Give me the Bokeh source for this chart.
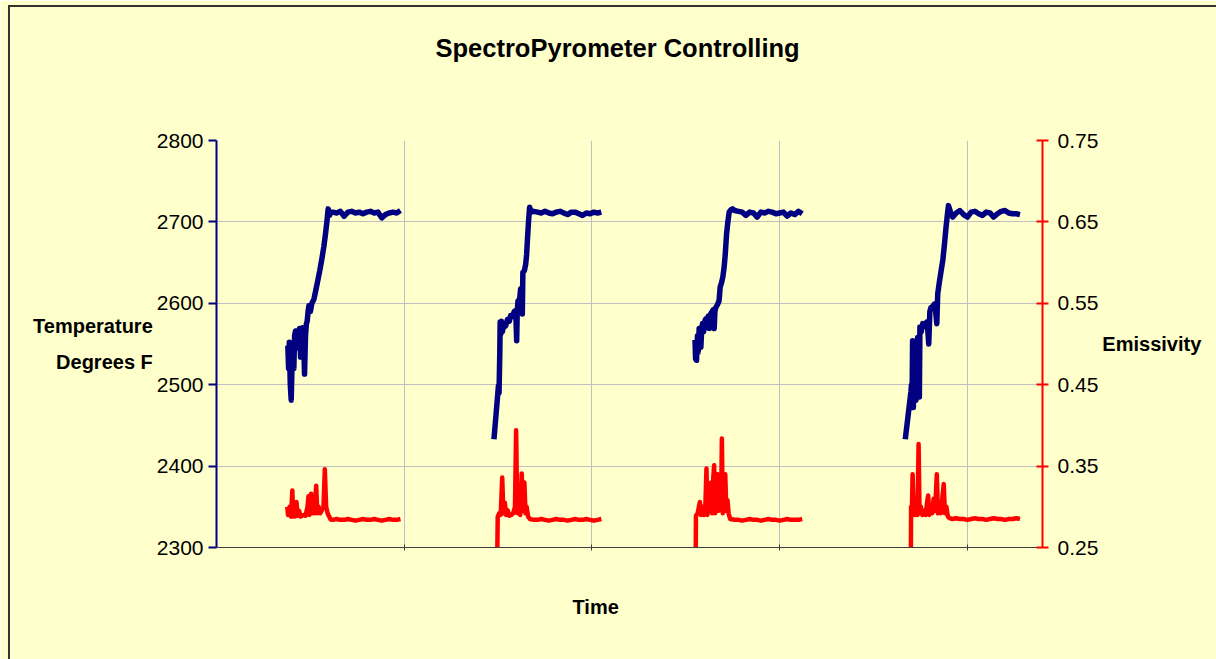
from bokeh.plotting import figure
from bokeh.models import (Range1d, LinearAxis, FixedTicker, PrintfTickFormatter,
                          CustomJSTickFormatter, Grid, Title, InlineStyleSheet)
from bokeh.embed import file_html
from bokeh.resources import INLINE

TITLE = "SpectroPyrometer Controlling"
X_LABEL = "Time"
Y_LABEL = "Temperature\nDegrees F"
Y2_LABEL = "Emissivity"

temp_ticks = [2300, 2400, 2500, 2600, 2700, 2800]
emis_ticks = [0.25, 0.35, 0.45, 0.55, 0.65, 0.75]
time_ticks = [100, 200, 300, 400]

# ---- cycle 1 ----
c1_time = [38.0, 38.4, 38.8, 39.3, 39.8, 40.3, 40.8, 41.2, 41.6, 42.1, 42.6, 43.2, 43.7, 44.2, 44.8,
           45.3, 45.8, 46.3, 46.9, 47.4, 47.9, 48.3, 48.8, 49.2, 50.0, 50.8, 51.9, 52.8, 53.7, 55.0,
           56.3, 57.2, 58.1, 58.8, 59.5, 60.2, 61.0,
           62, 64, 66, 68, 70, 72, 74, 76, 78, 80, 82, 84, 86, 88, 90, 92, 94, 96, 98]
c1_temp = [2548, 2520, 2552, 2500, 2481, 2530, 2548, 2520, 2560, 2566, 2545, 2565, 2550, 2569, 2534,
           2560, 2570, 2565, 2513, 2560, 2575, 2578, 2590, 2597, 2590, 2600, 2605, 2615, 2625, 2640,
           2657, 2670, 2686, 2700, 2716, 2708, 2712,
           2712, 2711, 2713, 2707, 2712, 2713, 2711, 2712, 2710, 2712, 2713, 2711, 2712, 2705, 2709,
           2711, 2712, 2711, 2714]
c1_etime = [37.7, 38.1, 38.9, 39.7, 40.4, 40.8, 41.3, 41.8, 42.6, 43.2, 44.0, 44.8, 46.4, 47.4, 48.5,
            49.0, 49.5, 50.4, 50.9, 51.7, 52.2, 53.1, 53.7, 54.4, 55.2, 56.0, 57.0, 57.7, 58.4, 59.2,
            60.0, 60.8,
            62, 64, 66, 68, 70, 72, 74, 76, 78, 80, 82, 84, 86, 88, 90, 92, 94, 96, 98]
c1_emis = [0.300, 0.290, 0.300, 0.288, 0.320, 0.288, 0.305, 0.288, 0.306, 0.289, 0.295, 0.288, 0.290,
           0.289, 0.300, 0.313, 0.290, 0.316, 0.292, 0.300, 0.292, 0.326, 0.292, 0.300, 0.292, 0.295,
           0.300, 0.346, 0.300, 0.292, 0.288, 0.2845,
           0.284, 0.285, 0.284, 0.284, 0.285, 0.284, 0.283, 0.284, 0.285, 0.284, 0.284, 0.285, 0.284,
           0.283, 0.284, 0.285, 0.284, 0.284, 0.285]

# ---- cycle 2 ----
c2_time = [147.8, 149.0, 150.2, 150.5, 150.9, 151.1, 151.4, 151.8, 152.3, 153.1, 154.0, 155.0, 156.0,
           156.7, 157.8, 158.6, 159.4, 159.9, 160.2, 160.6, 161.2, 162.0, 162.5, 162.9, 163.2, 164.0,
           164.7, 165.2, 165.6, 166.2, 166.8, 167.5,
           169, 171, 173, 175, 177, 179, 181, 183, 185, 187, 189, 191, 193, 195, 197, 199, 201, 203, 205]
c2_temp = [2433, 2466, 2499, 2490, 2538, 2577, 2562, 2578, 2565, 2575, 2572, 2580, 2578, 2585, 2584,
           2590, 2591, 2554, 2590, 2603, 2598, 2618, 2610, 2587, 2638, 2640, 2648, 2660, 2677, 2700,
           2718, 2712,
           2713, 2712, 2711, 2713, 2711, 2710, 2712, 2713, 2711, 2709, 2712, 2712, 2710, 2708, 2711,
           2710, 2712, 2711, 2712]
c2_etime = [149.6, 149.8, 150.6, 151.4, 152.2, 152.8, 153.6, 154.3, 155.0, 156.0, 157.0, 158.0, 159.0,
            159.6, 160.2, 161.0, 161.8, 162.6, 163.2, 164.0, 164.6, 165.2, 166.0, 167.0,
            169, 171, 173, 175, 177, 179, 181, 183, 185, 187, 189, 191, 193, 195, 197, 199, 201, 203, 205]
c2_emis = [0.25, 0.288, 0.292, 0.290, 0.336, 0.292, 0.305, 0.290, 0.296, 0.289, 0.290, 0.292, 0.300,
           0.394, 0.292, 0.300, 0.290, 0.341, 0.295, 0.330, 0.292, 0.300, 0.288, 0.285,
           0.284, 0.284, 0.285, 0.284, 0.283, 0.284, 0.285, 0.284, 0.284, 0.283, 0.284, 0.285, 0.284,
           0.284, 0.285, 0.284, 0.283, 0.284, 0.285]

# ---- cycle 3 ----
c3_time = [254.9, 255.2, 255.5, 255.7, 256.2, 256.6, 257.1, 257.5, 258.0, 258.5, 258.9, 259.5, 260.1,
           260.7, 261.3, 261.9, 262.5, 262.9, 263.3, 264.0, 264.6, 265.1, 265.5, 266.0, 266.8, 267.7,
           268.3, 269.0, 269.7, 270.4, 271.0, 271.7, 272.4, 273.1, 274.0, 274.9,
           276, 278, 280, 282, 284, 286, 288, 290, 292, 294, 296, 298, 300, 302, 304, 306, 308, 310, 312]
c3_temp = [2555, 2532, 2550, 2530, 2560, 2540, 2569, 2552, 2546, 2570, 2575, 2565, 2578, 2581, 2578,
           2584, 2569, 2585, 2587, 2590, 2592, 2569, 2590, 2595, 2598, 2603, 2620, 2625, 2632, 2644,
           2660, 2685, 2700, 2712, 2715, 2716,
           2714, 2713, 2712, 2708, 2712, 2711, 2706, 2712, 2711, 2713, 2712, 2710, 2711, 2712, 2707,
           2711, 2709, 2713, 2710]
c3_etime = [255.3, 255.4, 256.3, 257.0, 257.5, 258.0, 258.8, 259.6, 260.4, 261.0, 261.5, 262.2, 262.8,
            263.5, 264.1, 264.6, 265.1, 265.6, 266.2, 266.9, 267.5, 268.2, 268.8, 269.2, 269.7, 270.4,
            271.0, 271.6, 272.2, 272.8, 273.6,
            276, 278, 280, 282, 284, 286, 288, 290, 292, 294, 296, 298, 300, 302, 304, 306, 308, 310, 312]
c3_emis = [0.25, 0.289, 0.292, 0.300, 0.306, 0.290, 0.300, 0.290, 0.300, 0.347, 0.290, 0.310, 0.295,
           0.330, 0.292, 0.335, 0.351, 0.292, 0.320, 0.340, 0.295, 0.320, 0.300, 0.384, 0.292, 0.310,
           0.340, 0.295, 0.308, 0.292, 0.285,
           0.284, 0.284, 0.283, 0.284, 0.285, 0.284, 0.284, 0.283, 0.284, 0.285, 0.284, 0.284, 0.283,
           0.284, 0.285, 0.284, 0.284, 0.284, 0.285]

# ---- cycle 4 ----
c4_time = [366.9, 368.4, 369.9, 370.2, 370.5, 370.8, 371.2, 371.6, 372.0, 372.6, 373.0, 373.5, 374.0,
           374.4, 374.7, 375.4, 376.2, 377.2, 378.3, 378.8, 379.4, 380.0, 380.6, 381.5, 382.4, 383.0,
           383.7, 384.2, 385.0, 386.0, 386.9, 387.8, 388.6, 389.3, 389.9, 391.0, 392.2,
           394, 396, 398, 400, 402, 404, 406, 408, 410, 412, 414, 416, 418, 420, 422, 424, 426, 428]
c4_temp = [2433, 2462, 2491, 2500, 2472, 2554, 2472, 2550, 2500, 2481, 2530, 2558, 2520, 2485, 2571,
           2565, 2575, 2572, 2577, 2570, 2550, 2590, 2595, 2596, 2599, 2592, 2575, 2612, 2625, 2640,
           2653, 2673, 2693, 2708, 2720, 2712, 2706,
           2711, 2714, 2709, 2706, 2712, 2713, 2710, 2708, 2712, 2711, 2706, 2710, 2713, 2714, 2711,
           2710, 2710, 2709]
c4_etime = [369.9, 370.0, 370.4, 370.8, 371.3, 372.0, 372.8, 373.4, 374.0, 374.5, 375.2, 376.0, 377.0,
            377.8, 378.5, 379.1, 379.7, 380.5, 381.2, 382.0, 382.8, 383.7, 384.3, 385.0, 385.8, 386.6,
            387.4, 388.0, 388.8, 389.6, 390.5,
            392, 394, 396, 398, 400, 402, 404, 406, 408, 410, 412, 414, 416, 418, 420, 422, 424, 426, 428]
c4_emis = [0.25, 0.300, 0.290, 0.340, 0.300, 0.290, 0.300, 0.290, 0.377, 0.292, 0.300, 0.290, 0.295,
           0.290, 0.305, 0.314, 0.290, 0.300, 0.292, 0.310, 0.295, 0.340, 0.292, 0.300, 0.292, 0.310,
           0.328, 0.292, 0.300, 0.288, 0.286,
           0.285, 0.286, 0.285, 0.285, 0.284, 0.285, 0.286, 0.285, 0.285, 0.284, 0.285, 0.286, 0.285,
           0.285, 0.284, 0.285, 0.285, 0.286, 0.285]

temp_cycles = [(c1_time, c1_temp), (c2_time, c2_temp), (c3_time, c3_temp), (c4_time, c4_temp)]
emis_cycles = [(c1_etime, c1_emis), (c2_etime, c2_emis), (c3_etime, c3_emis), (c4_etime, c4_emis)]

BG = "#FFFFCC"
BLUE = "#000080"
RED = "#FF0000"
GRID = "#C0C0C0"
AXIS_DARK = "#404040"
FONT = "Liberation Sans"

W, H = 1216, 659
FRAME_W, FRAME_H = 826, 407
p = figure(width=W, height=H, output_backend="svg", toolbar_location=None,
           x_range=Range1d(0, 440), y_range=Range1d(2300, 2800),
           background_fill_color=BG, border_fill_color=BG,
           min_border_left=216, min_border_right=W - 216 - FRAME_W, min_border_top=140,
           min_border_bottom=H - 140 - FRAME_H)
p.outline_line_color = None

# chart-area frame line (left and top edges of the Excel chart box)
p.stylesheets = [InlineStyleSheet(css=""":host { position: relative; }
:host::after { content: ''; position: absolute; left: 8px; top: 5px; right: 0; bottom: 0;
  border-left: 2px solid #333333; border-top: 2px solid #333333; pointer-events: none; }""")]

p.extra_y_ranges = {"emis": Range1d(0.25, 0.75)}

xa = p.below[0]   # the primary (bottom) x axis
ya = p.left[0]    # the primary (left) y axis


def spacer_axis(size):
    """An invisible axis (one hidden tick, no label) that only reserves space
    between the frame and a title."""
    ax = LinearAxis(ticker=FixedTicker(ticks=[220]),
                    formatter=CustomJSTickFormatter(code="return ''"))
    ax.axis_line_color = None
    ax.major_tick_line_color = None
    ax.minor_tick_line_color = None
    ax.major_tick_in = 0
    ax.major_tick_out = size
    ax.minor_tick_out = 0
    ax.major_label_standoff = 0
    ax.major_label_text_font_size = "1px"
    return ax


# title (outermost in the "above" panel, pushed up by a spacer axis)
p.add_layout(spacer_axis(79), "above")
p.title.text = TITLE
p.title.align = "left"
p.title.offset = 219
p.title.standoff = 0
p.title.text_font = FONT
p.title.text_font_size = "25.5px"
p.title.text_font_style = "bold"
p.title.text_color = "black"

# grids
p.xgrid.ticker = FixedTicker(ticks=time_ticks)
p.ygrid.ticker = FixedTicker(ticks=temp_ticks)
p.xgrid.grid_line_color = GRID
p.ygrid.grid_line_color = GRID
p.add_layout(Grid(dimension=1, ticker=FixedTicker(ticks=[2300]), grid_line_color=AXIS_DARK,
                  grid_line_width=1))

# bottom axis (no tick labels)
xa.ticker = FixedTicker(ticks=time_ticks)
xa.formatter = CustomJSTickFormatter(code="return ''")
xa.axis_line_color = AXIS_DARK
xa.axis_line_width = 1
xa.major_tick_line_color = AXIS_DARK
xa.major_tick_in = 3
xa.major_tick_out = 3
xa.minor_tick_line_color = None
xa.major_label_text_font_size = "1px"

p.add_layout(spacer_axis(43), "below")
p.add_layout(Title(text=X_LABEL, align="left", offset=356, standoff=0,
                   text_font=FONT, text_font_size="20px", text_font_style="bold",
                   text_color="black"), "below")

# left axis
ya.ticker = FixedTicker(ticks=temp_ticks)
ya.axis_line_color = BLUE
ya.axis_line_width = 2
ya.major_tick_line_color = BLUE
ya.major_tick_line_width = 2
ya.major_tick_in = 0
ya.major_tick_out = 8
ya.minor_tick_line_color = None
ya.major_label_standoff = 5
ya.major_label_text_font = FONT
ya.major_label_text_font_size = "21px"
ya.major_label_text_color = "black"
ya.axis_label = Y_LABEL
ya.axis_label_orientation = "horizontal"
ya.axis_label_standoff = 1
ya.axis_label_text_font = FONT
ya.axis_label_text_font_size = "20px"
ya.axis_label_text_font_style = "bold"
ya.axis_label_text_color = "black"
ya.axis_label_text_line_height = 1.6

# right axis
ra = LinearAxis(y_range_name="emis", ticker=FixedTicker(ticks=emis_ticks),
                formatter=PrintfTickFormatter(format="%.2f"))
ra.axis_line_color = RED
ra.axis_line_width = 2
ra.major_tick_line_color = RED
ra.major_tick_line_width = 2
ra.major_tick_in = 6
ra.major_tick_out = 6
ra.minor_tick_line_color = None
ra.major_label_standoff = 9
ra.major_label_text_font = FONT
ra.major_label_text_font_size = "21px"
ra.major_label_text_color = "black"
ra.axis_label = Y2_LABEL
ra.axis_label_orientation = "horizontal"
ra.axis_label_standoff = 1
ra.axis_label_text_font = FONT
ra.axis_label_text_font_size = "20px"
ra.axis_label_text_font_style = "bold"
ra.axis_label_text_color = "black"
p.add_layout(ra, "right")

# data lines
for t, v in emis_cycles:
    n = min(len(t), len(v))
    p.line(t[:n], v[:n], y_range_name="emis", line_color=RED, line_width=4.5, line_join="round")
for t, v in temp_cycles:
    n = min(len(t), len(v))
    p.line(t[:n], v[:n], line_color=BLUE, line_width=5.5, line_join="round")

open("out.html", "w").write(file_html(p, INLINE))
